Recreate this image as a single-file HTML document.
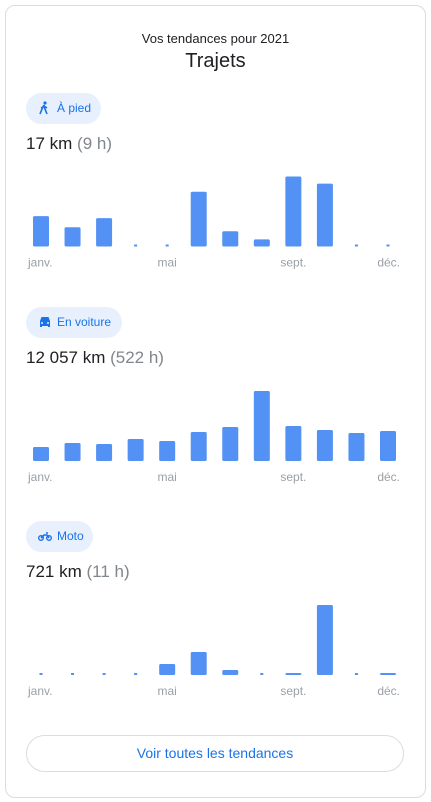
<!DOCTYPE html>
<html><head><meta charset="utf-8"><style>
body{margin:0;width:431px;height:802px;background:#fff;font-family:"Liberation Sans",sans-serif;position:relative;overflow:hidden}
.card{position:absolute;left:5px;top:5px;width:419px;height:791px;border:1px solid #dadce0;border-radius:10px}
.abs{position:absolute}
.sub{left:0;width:431px;text-align:center;top:31px;font-size:13px;color:#202124}
.title{left:0;width:431px;text-align:center;top:50px;font-size:20px;color:#202124}
.pill{left:26px;height:31px;border-radius:16px;background:#e8f0fe;color:#1a73e8;font-size:12px;line-height:31px;padding:0 0 0 31px;box-sizing:border-box;white-space:nowrap}
.pill svg{position:absolute;left:12px;top:8px}
.tot{left:26px;font-size:17px;color:#202124}
.tot span{color:#80868b}
.btn{left:26px;top:735px;width:378px;height:37px;border:1px solid #dadce0;border-radius:19px;box-sizing:border-box;text-align:center;line-height:35px;color:#1a73e8;font-size:14px}
</style></head><body>
<div class="card"></div>
<div class="abs sub">Vos tendances pour 2021</div>
<div class="abs title">Trajets</div>

<div class="abs pill" style="top:93px;width:75px"><svg width="12" height="14" viewBox="0 0 12 14"><circle cx="7" cy="2" r="1.6" fill="#1a73e8"/><path d="M6 4 L4 8 L2 13 M6 4 L7 8 L9 13 M5 6 L3 7 M6 5 L9 7" stroke="#1a73e8" stroke-width="1.6" fill="none"/></svg>À pied</div>
<div class="abs tot" style="top:134px">17 km <span>(9 h)</span></div>

<div class="abs pill" style="top:307px;width:96px"><svg width="14" height="14" viewBox="0 0 14 14"><path d="M2 6 L3.5 2 H10.5 L12 6 V12 H10 V11 H4 V12 H2 Z" fill="#1a73e8"/><circle cx="4" cy="8" r="1" fill="#e8f0fe"/><circle cx="10" cy="8" r="1" fill="#e8f0fe"/></svg>En voiture</div>
<div class="abs tot" style="top:348px">12 057 km <span>(522 h)</span></div>

<div class="abs pill" style="top:521px;width:67px"><svg width="14" height="14" viewBox="0 0 14 14"><circle cx="3" cy="9" r="2.3" stroke="#1a73e8" stroke-width="1.4" fill="none"/><circle cx="11" cy="9" r="2.3" stroke="#1a73e8" stroke-width="1.4" fill="none"/><path d="M3 9 L6 6 H9 L11 9 M8 4 H10" stroke="#1a73e8" stroke-width="1.6" fill="none"/></svg>Moto</div>
<div class="abs tot" style="top:562px">721 km <span>(11 h)</span></div>

<svg id="charts" class="abs" style="left:0;top:0" width="431" height="802"></svg>

<div class="abs btn">Voir toutes les tendances</div>

<script>
const months = ["janv.","févr.","mars","avr.","mai","juin","juil.","août","sept.","oct.","nov.","déc."];
const tickLabels = ["janv.","mai","sept.","déc."];
const walkValues = [30,19,28,0,0,54,15,7,69,62,0,0];
const carValues = [14,18,17,22,20,29,34,70,35,31,28,30];
const motoValues = [0,0,0,0,11,23,5,0,2,70,0,2];
const series = [
  {name:"walking", values:walkValues, base:246.5},
  {name:"car", values:carValues, base:461},
  {name:"moto", values:motoValues, base:675}
];
const svg = document.getElementById('charts');
const NS = "http://www.w3.org/2000/svg";
const xPos = i => 41 + i * (388 - 41) / 11;
const yScale = (v, maxV) => v / maxV * 70;
series.forEach(s => {
  const maxV = Math.max(...s.values);
  s.values.forEach((v, i) => {
    const r = document.createElementNS(NS, 'rect');
    const cx = xPos(i);
    if (v <= 0) {
      r.setAttribute('x', cx - 1.5); r.setAttribute('width', 3);
      r.setAttribute('y', s.base - 2); r.setAttribute('height', 2);
    } else {
      const h = Math.max(2, yScale(v, maxV));
      r.setAttribute('x', cx - 8); r.setAttribute('width', 16);
      r.setAttribute('y', s.base - h); r.setAttribute('height', h);
      r.setAttribute('rx', 1.5);
    }
    r.setAttribute('fill', '#5391f5');
    
    
    svg.appendChild(r);
  });
  tickLabels.forEach(lab => {
    const i = months.indexOf(lab);
    const t = document.createElementNS(NS, 'text');
    t.textContent = lab;
    t.setAttribute('x', i === 11 ? xPos(i) + 12 : (i === 0 ? xPos(i) - 13 : xPos(i)));
    t.setAttribute('text-anchor', i === 11 ? 'end' : (i === 0 ? 'start' : 'middle'));
    t.setAttribute('y', s.base + 20);
    t.setAttribute('font-size', '12');
    t.setAttribute('fill', '#9aa0a6');
    t.setAttribute('font-family', 'Liberation Sans, sans-serif');
    
    
    svg.appendChild(t);
  });
});
</script>
</body></html>
